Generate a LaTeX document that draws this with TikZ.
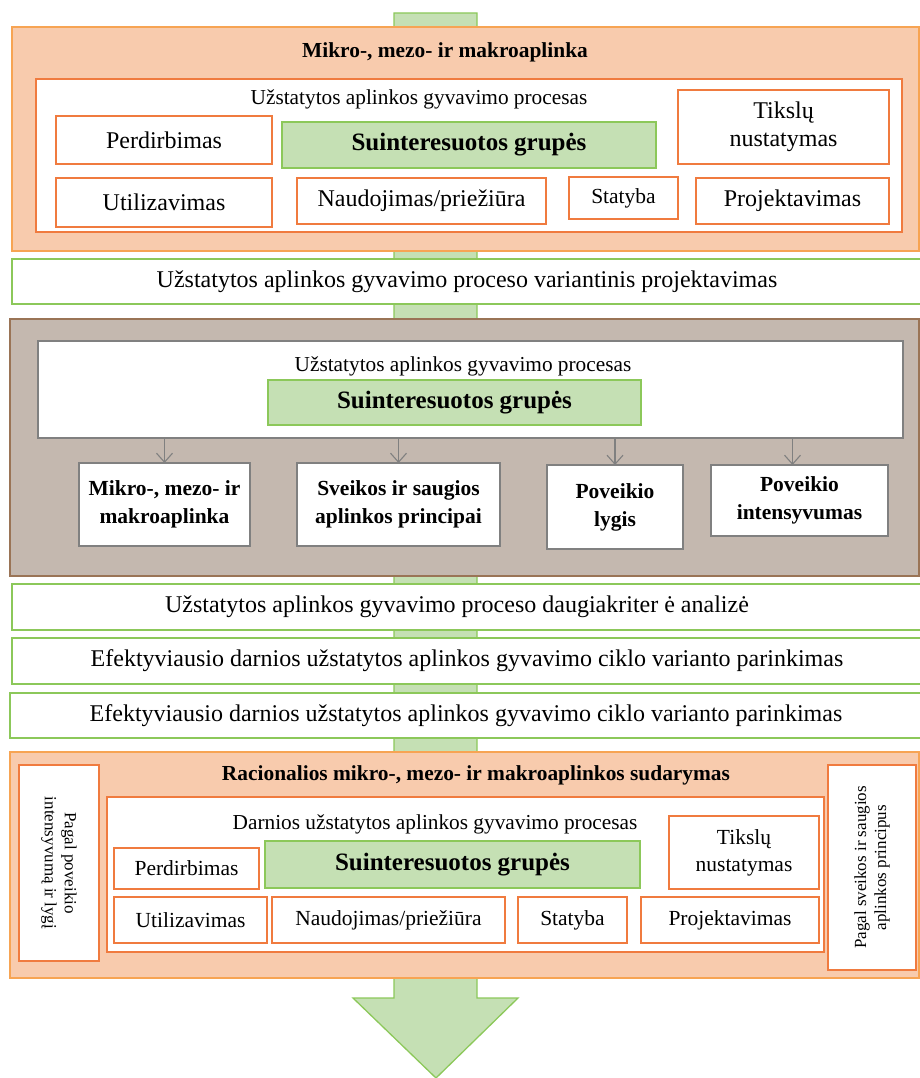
\documentclass[tikz,border=0pt]{standalone}
\usepackage{fontspec}
\setmainfont{Liberation Serif}
\usetikzlibrary{arrows.meta}
\definecolor{lorange}{HTML}{F8CBAD}
\definecolor{oborder}{HTML}{F7A453}
\definecolor{iorange}{HTML}{F07B3F}
\definecolor{lgreen}{HTML}{C5E0B4}
\definecolor{dgreen}{HTML}{8CC85A}
\definecolor{taupe}{HTML}{C4B8AF}
\definecolor{brownb}{HTML}{9A7456}
\definecolor{grayb}{HTML}{808080}
\tikzset{
  base/.style={inner sep=0pt, outer sep=0pt, align=center},
  outerbox/.style={base, draw=oborder, fill=lorange, line width=1.3pt},
  innerbox/.style={base, draw=iorange, fill=white, line width=1.5pt},
  obox/.style={base, draw=iorange, fill=white, line width=1.6pt, font=\fontsize{24}{28}\selectfont},
  oboxs/.style={obox, font=\fontsize{21.5}{27}\selectfont},
  sgbox/.style={base, draw=dgreen, fill=lgreen, line width=1.3pt, font=\bfseries\fontsize{25}{30}\selectfont},
  band/.style={base, draw=dgreen, fill=white, line width=1.6pt, font=\fontsize{24}{28}\selectfont},
  graybox/.style={base, draw=brownb, fill=taupe, line width=1.3pt},
  ginner/.style={base, draw=grayb, fill=white, line width=1.2pt},
  gbox/.style={base, draw=grayb, fill=white, line width=1.2pt, font=\bfseries\fontsize{21.5}{28}\selectfont},
  ttl/.style={base, font=\bfseries\fontsize{21.4}{26}\selectfont},
  ptxt/.style={base, font=\fontsize{21.3}{26}\selectfont},
  vtxt/.style={base, draw=iorange, fill=white, line width=1.5pt, font=\fontsize{17}{20}\selectfont},
  arr/.style={draw=grayb, line width=1.1pt, -{Straight Barb[length=9pt,width=16pt,line width=1.1pt]}}
}
\begin{document}
\begin{tikzpicture}[x=1pt,y=-1pt]
\useasboundingbox (0,0) rectangle (920,1078);
% big green arrow behind everything
\fill[lgreen, draw=dgreen, line width=1.3pt] (394,13) -- (477,13) -- (477,998) -- (518,998) -- (436,1078) -- (353,998) -- (394,998) -- cycle;

% ---------- top section ----------
\node[outerbox, minimum width=907pt, minimum height=224pt] (top) at (465.5,139) {};
\node[ttl] (toptitle) at (445,52) {Mikro-, mezo- ir makroaplinka};
\node[innerbox, minimum width=866pt, minimum height=153pt] (topin) at (469,155.5) {};
\node[ptxt] (topproc) at (419,99) {Užstatytos aplinkos gyvavimo procesas};
\node[obox, minimum width=216pt, minimum height=48pt] (tperd) at (164,140) {Perdirbimas};
\node[sgbox, minimum width=374pt, minimum height=46pt] (tsg) at (469,145) {Suinteresuotos grupės};
\node[obox, minimum width=211pt, minimum height=74pt] (ttiks) at (783.5,127) {Tikslų\\nustatymas};
\node[obox, minimum width=216pt, minimum height=49pt] (tutil) at (164,202.5) {Utilizavimas};
\node[obox, minimum width=249pt, minimum height=46pt] (tnaud) at (421.5,201) {Naudojimas/priežiūra};
\node[oboxs, minimum width=109pt, minimum height=42pt] (tstat) at (623.5,198) {Statyba};
\node[obox, minimum width=193pt, minimum height=46pt] (tproj) at (792.5,201) {Projektavimas};

% ---------- band 1 ----------
\node[band, minimum width=910pt, minimum height=45pt] (band1) at (467,281.5) {Užstatytos aplinkos gyvavimo proceso variantinis projektavimas};

% ---------- gray section ----------
\node[graybox, minimum width=909pt, minimum height=257pt] (mid) at (464.5,447.5) {};
\node[ginner, minimum width=865pt, minimum height=97pt] (midin) at (470.5,389.5) {};
\node[ptxt] (midproc) at (463,366) {Užstatytos aplinkos gyvavimo procesas};
\node[sgbox, minimum width=373pt, minimum height=45pt] (msg) at (454.5,402.5) {Suinteresuotos grupės};
\node[gbox, minimum width=171pt, minimum height=83pt] (m1) at (164.5,504.5) {Mikro-, mezo- ir\\makroaplinka};
\node[gbox, minimum width=203pt, minimum height=83pt] (m2) at (398.5,504.5) {Sveikos ir saugios\\aplinkos principai};
\node[gbox, minimum width=136pt, minimum height=84pt] (m3) at (615,507) {Poveikio\\lygis};
\node[gbox, minimum width=177pt, minimum height=71pt] (m4) at (799.5,500.5) {Poveikio\\intensyvumas};
\draw[arr] (m1.north |- midin.south) -- (m1.north);
\draw[arr] (m2.north |- midin.south) -- (m2.north);
\draw[arr] (m3.north |- midin.south) -- (m3.north);
\draw[arr] ([xshift=-7pt]m4.north |- midin.south) -- ([xshift=-7pt]m4.north);

% ---------- bands ----------
\node[band, minimum width=910pt, minimum height=46pt] (bandA) at (467,607) {\hspace*{-20pt}Užstatytos aplinkos gyvavimo proceso daugiakriter ė analizė};
\node[band, minimum width=910pt, minimum height=46pt] (bandB) at (467,661) {Efektyviausio darnios užstatytos aplinkos gyvavimo ciklo varianto parinkimas};
\node[band, minimum width=912pt, minimum height=45pt] (bandC) at (466,715.5) {Efektyviausio darnios užstatytos aplinkos gyvavimo ciklo varianto parinkimas};

% ---------- bottom section ----------
\node[outerbox, minimum width=909pt, minimum height=226pt] (bot) at (464.5,865) {};
\node[ttl] (bottitle) at (476,775) {Racionalios mikro-, mezo- ir makroaplinkos sudarymas};
\node[vtxt, rotate=-90, minimum width=196pt, minimum height=80pt] (bleft) at (59,863) {Pagal poveikio\\intensyvumą ir lygį};
\node[vtxt, rotate=90, minimum width=205pt, minimum height=88pt] (bright) at (872,867.5) {Pagal sveikos ir saugios\\aplinkos principus};
\node[innerbox, minimum width=717pt, minimum height=155pt] (botin) at (465.5,874.5) {};
\node[ptxt] (botproc) at (435,824) {Darnios užstatytos aplinkos gyvavimo procesas};
\node[oboxs, minimum width=145pt, minimum height=41pt] (bperd) at (186.5,868.5) {Perdirbimas};
\node[sgbox, minimum width=375pt, minimum height=47pt] (bsg) at (452.5,864.5) {Suinteresuotos grupės};
\node[oboxs, minimum width=150pt, minimum height=73pt] (btiks) at (744,852.5) {Tikslų\\nustatymas};
\node[oboxs, minimum width=153pt, minimum height=46pt] (butil) at (190.5,920) {Utilizavimas};
\node[oboxs, minimum width=233pt, minimum height=46pt] (bnaud) at (388.5,920) {Naudojimas/priežiūra};
\node[oboxs, minimum width=109pt, minimum height=46pt] (bstat) at (572.5,920) {Statyba};
\node[oboxs, minimum width=178pt, minimum height=46pt] (bproj) at (730,920) {Projektavimas};
\end{tikzpicture}
\end{document}
